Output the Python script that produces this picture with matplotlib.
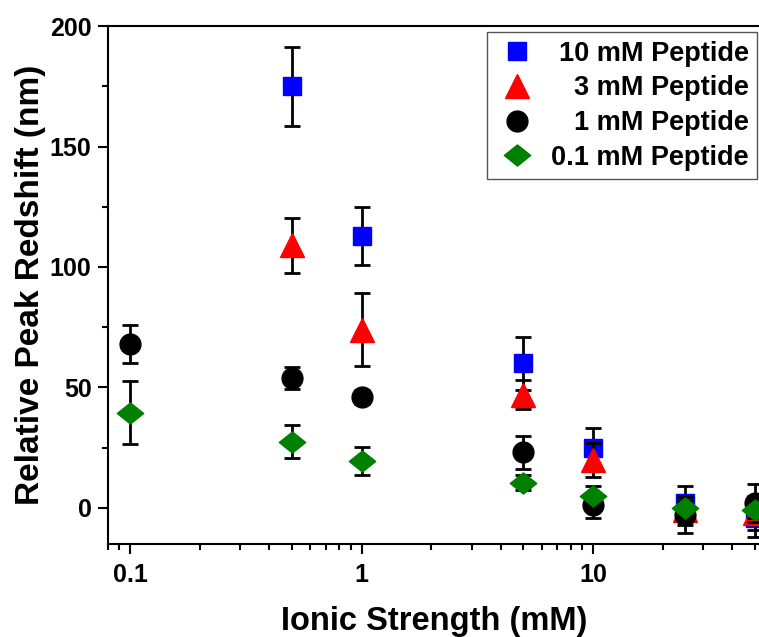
import numpy as np
import matplotlib
matplotlib.use('Agg')
import matplotlib.pyplot as plt
from matplotlib.ticker import LogLocator, FixedLocator, NullFormatter, FuncFormatter
from matplotlib.path import Path

# Redshift vs ionic strength, one series per peptide concentration
pep10_x = [0.5, 1, 5, 10, 25, 50]
pep10_y = [175, 113, 60, 25, 2, -4]
pep10_err = [16.5, 12, 11, 8, 7, 8]

pep3_x = [0.5, 1, 5, 10, 25, 50]
pep3_y = [109, 74, 47, 20, -1, -2]
pep3_err = [11.5, 15, 6, 7, 6, 7]

pep1_x = [0.1, 0.5, 1, 5, 10, 25, 50]
pep1_y = [68, 54, 46, 23, 1, -3, 2]
pep1_err = [8, 4.5, 3, 7, 5, 7.5, 8]

pep01_x = [0.1, 0.5, 1, 5, 10, 25, 50]
pep01_y = [39.5, 27.5, 19.5, 10.5, 5, 0, -1]
pep01_err = [13, 7, 5.7, 3, 4, 3, 3]

labels = ['10 mM Peptide', '3 mM Peptide', '1 mM Peptide', '0.1 mM Peptide']

plt.rcParams['font.family'] = ['Liberation Sans', 'DejaVu Sans']
plt.rcParams['font.weight'] = 'bold'

# wide, flat diamond like the one Origin uses
wide_diamond = Path([(-1.0, 0.0), (0.0, 0.8), (1.0, 0.0), (0.0, -0.8), (-1.0, 0.0)],
                    [Path.MOVETO, Path.LINETO, Path.LINETO, Path.LINETO, Path.CLOSEPOLY])

series = [
    (pep10_x, pep10_y, pep10_err, 's', '#0000ff', 13.5),
    (pep3_x, pep3_y, pep3_err, '^', '#ff0000', 17),
    (pep1_x, pep1_y, pep1_err, 'o', '#000000', 15),
    (pep01_x, pep01_y, pep01_err, wide_diamond, '#008000', 19),
]

fig = plt.figure(figsize=(7.59, 6.37), dpi=100)
# axes run past the right edge of the figure
ax = fig.add_axes([0.1417, 0.146, 0.877, 0.813])

handles = []
for i, (x, y, err, mk, col, ms) in enumerate(series):
    cont = ax.errorbar(x, y, yerr=err, fmt='', marker=mk, linestyle='none',
                       color=col, ms=ms, mec=col, mfc=col,
                       ecolor='black', elinewidth=2, capsize=6, capthick=2,
                       zorder=3 + i)
    handles.append(cont[0])

ax.set_xscale('log')
ax.set_xlim(0.08, 60)
ax.set_ylim(-15, 200)

ax.xaxis.set_major_locator(LogLocator(base=10, numticks=10))
ax.xaxis.set_minor_locator(LogLocator(base=10, subs=np.arange(2, 10), numticks=20))
ax.xaxis.set_minor_formatter(NullFormatter())
ax.xaxis.set_major_formatter(FuncFormatter(lambda v, p: f'{v:g}'))
ax.yaxis.set_major_locator(FixedLocator([0, 50, 100, 150, 200]))
ax.yaxis.set_minor_locator(FixedLocator([25, 75, 125, 175]))

for side in ['top', 'left', 'bottom', 'right']:
    ax.spines[side].set_linewidth(1.5)
ax.tick_params(which='both', direction='out', width=1.5, top=False, right=False,
               labelsize=18, pad=4)
ax.tick_params(axis='x', which='major', pad=6)
ax.tick_params(which='major', length=7.5)
ax.tick_params(which='minor', length=4.5)

ax.set_xlabel('Ionic Strength (mM)', fontsize=23.5, fontweight='bold')
ax.set_ylabel('Relative Peak Redshift (nm)', fontsize=24, fontweight='bold', labelpad=3)
ax.xaxis.set_label_coords(0.49, -0.12, transform=ax.transAxes)

leg = fig.legend(handles, labels, loc='upper left',
                 bbox_to_anchor=(487 / 759, 1 - 32 / 637),
                 fontsize=19.5, numpoints=1, fancybox=False, framealpha=1,
                 edgecolor='#555555', borderpad=0.32, labelspacing=0.32,
                 handlelength=1.6, handletextpad=0.45, borderaxespad=0)
leg.get_frame().set_linewidth(1.0)

# right-align the legend labels against the widest one
fig.canvas.draw()
renderer = fig.canvas.get_renderer()
widths = [t.get_window_extent(renderer).width for t in leg.get_texts()]
for t, w in zip(leg.get_texts(), widths):
    t.set_position((max(widths) - w, 0))

fig.savefig('out.png', dpi=100)
plt.close(fig)
